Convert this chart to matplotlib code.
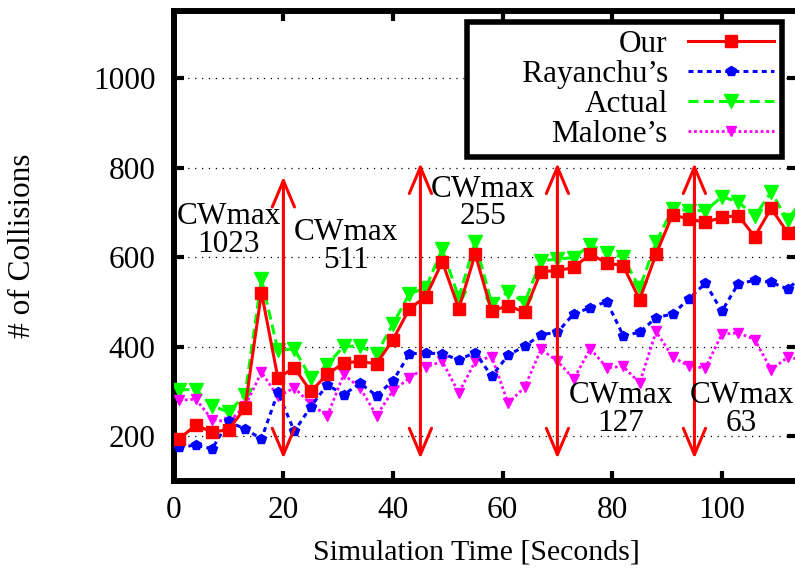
import matplotlib
matplotlib.use("Agg")
import matplotlib.pyplot as plt

plt.rcParams['font.family'] = ['Liberation Serif', 'DejaVu Serif']

# simulation time (s), one sample every 3 s
time_s = [1, 4, 7, 10, 13, 16, 19, 22, 25, 28, 31, 34, 37, 40, 43, 46, 49, 52, 55, 58,
          61, 64, 67, 70, 73, 76, 79, 82, 85, 88, 91, 94, 97, 100, 103, 106, 109, 112, 115]

our = [194, 225, 209, 215, 263, 521, 330, 353, 300, 338, 364, 367, 362, 416, 485, 512, 590, 485, 607, 479,
       492, 477, 568, 570, 577, 607, 587, 581, 505, 607, 695, 685, 678, 689, 693, 646, 709, 655, 680]
rayanchu = [176, 180, 172, 233, 216, 194, 298, 211, 266, 315, 293, 318, 291, 324, 384, 386, 384, 371, 387, 334,
            381, 401, 427, 432, 474, 487, 501, 425, 432, 465, 473, 507, 542, 479, 541, 548, 544, 529, 560]
actual = [304, 304, 268, 254, 292, 551, 392, 395, 330, 360, 401, 401, 384, 451, 518, 532, 618, 509, 634, 496,
          523, 498, 592, 596, 599, 628, 609, 600, 531, 633, 708, 704, 704, 735, 724, 691, 746, 682, 735]
malone = [280, 283, 237, 232, 267, 343, 289, 308, 272, 245, 338, 308, 246, 302, 330, 355, 367, 297, 367, 378,
          274, 309, 394, 368, 328, 396, 353, 356, 319, 434, 378, 356, 353, 428, 431, 416, 349, 376, 371]

# CWmax change points (vertical arrows) and their labels
arrow_x = [20, 45, 70, 95]
arrow_low = [150, 150, 150, 150]
arrow_high = [780, 810, 810, 810]
cw_values = ['1023', '511', '255', '127', '63']
cw_x = [10, 31.5, 56.5, 81.5, 103.6]
cw_y = [659, 623, 721, 260, 260]

FS = 22.5

fig = plt.figure(figsize=(7.95, 5.8), dpi=100)
ax = fig.add_axes([0.2186, 0.1707, 0.7845, 0.8103])

ax.plot(time_s, actual, color='#00ff00', lw=2.2, ls=(0, (3.3, 1.7)), marker='v', ms=10,
        label='Actual', zorder=3)
ax.plot(time_s, malone, color='#ff00ff', lw=2.0, ls=(0, (1, 1)), marker='v', ms=7.5,
        label='Malone’s', zorder=3)
ax.plot(time_s, rayanchu, color='#0000ff', lw=2.2, ls=(0, (1.6, 1.4)), marker='p', ms=7,
        label='Rayanchu’s', zorder=3)
ax.plot(time_s, our, color='#ff0000', lw=2.2, ls='-', marker='s', ms=8.5,
        label='Our', zorder=4)

for x, lo, hi in zip(arrow_x, arrow_low, arrow_high):
    ax.annotate('', xy=(x, lo), xytext=(x, hi),
                arrowprops=dict(arrowstyle='<->,head_length=1.9,head_width=0.8',
                                color='#ff0000', lw=2.2, shrinkA=0, shrinkB=0),
                zorder=5)

for x, y, v in zip(cw_x, cw_y, cw_values):
    ax.text(x, y, 'CWmax\n' + v, ha='center', va='center', multialignment='center',
            fontsize=FS, linespacing=0.95, zorder=6)

ax.set_xlim(0, 113.8)
ax.set_ylim(100, 1150)
ax.set_xticks([0, 20, 40, 60, 80, 100])
ax.set_yticks([200, 400, 600, 800, 1000])
ax.yaxis.grid(True, color='black', lw=0.9, ls=(0, (1, 4.5)))
ax.set_axisbelow(True)

for s in ax.spines.values():
    s.set_linewidth(4.3)
ax.tick_params(direction='in', length=7, width=3, top=True, right=True,
               labelsize=FS)
ax.tick_params(axis='y', pad=13)
ax.tick_params(axis='x', pad=11)

ax.set_ylabel('# of Collisions', fontsize=FS)
ax.yaxis.set_label_coords(-0.22, 0.5)
ax.set_xlabel('Simulation Time [Seconds]', fontsize=21.5)
ax.xaxis.set_label_coords(0.485, -0.125)

handles, labels = ax.get_legend_handles_labels()
order = [3, 2, 0, 1]
leg = ax.legend([handles[i] for i in order],
                ['Our', '      Rayanchu’s', 'Actual', 'Malone’s'],
                loc='upper right', bbox_to_anchor=(0.975, 0.977), borderaxespad=0,
                markerfirst=False, fontsize=FS, handlelength=2.75, handletextpad=0.65,
                labelspacing=0.04, borderpad=0.25, fancybox=False, framealpha=1,
                edgecolor='black')
leg.get_frame().set_linewidth(4)
leg.set_zorder(10)

fig.savefig('out.png', dpi=100)
